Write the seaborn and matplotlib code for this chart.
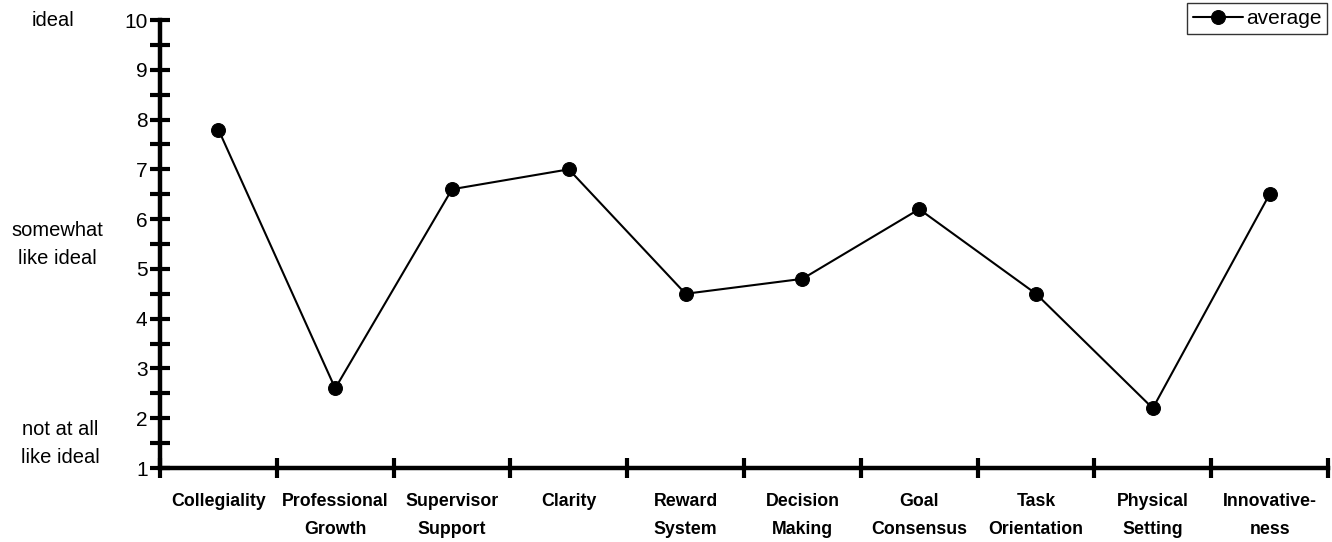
import matplotlib
matplotlib.use("Agg")
import matplotlib.pyplot as plt
from matplotlib import font_manager
import seaborn as sns
import pandas as pd
import numpy as np

categories = ["Collegiality", "Professional\nGrowth", "Supervisor\nSupport", "Clarity",
              "Reward\nSystem", "Decision\nMaking", "Goal\nConsensus", "Task\nOrientation",
              "Physical\nSetting", "Innovative-\nness"]
average = [7.8, 2.6, 6.6, 7.0, 4.5, 4.8, 6.2, 4.5, 2.2, 6.5]
y_ticks = [1, 2, 3, 4, 5, 6, 7, 8, 9, 10]
scale_labels = [("ideal", 10, 53), ("somewhat\nlike ideal", 5.5, 57), ("not at all\nlike ideal", 1.5, 60)]

sns.set_style("white")
plt.rcParams["font.family"] = ["Liberation Sans", "DejaVu Sans"]
plt.rcParams["text.color"] = "black"
plt.rcParams["xtick.color"] = "black"
plt.rcParams["ytick.color"] = "black"

# condensed bold face for the category names, when one is available
installed = {f.name for f in font_manager.fontManager.ttflist}
if "Liberation Sans Narrow" in installed:
    cat_family, cat_size = ["Liberation Sans Narrow", "Liberation Sans"], 15
else:
    cat_family, cat_size = ["Liberation Sans", "DejaVu Sans"], 12.8

df = pd.DataFrame({"pos": np.arange(len(categories)), "average": average})

fig = plt.figure(figsize=(13.32, 5.42), dpi=100)
ax = fig.add_axes([160 / 1332, 1 - 468 / 542, (1328 - 160) / 1332, (468 - 20) / 542])

sns.lineplot(data=df, x="pos", y="average", ax=ax, color="black", linewidth=1.5,
             marker="o", markersize=10, markeredgecolor="black", markerfacecolor="black",
             label="average", clip_on=False)

ax.set_xlim(-0.5, len(categories) - 0.5)
ax.set_ylim(1, 10)
ax.set_xlabel("")
ax.set_ylabel("")

for side in ["top", "right"]:
    ax.spines[side].set_visible(False)
for side in ["left", "bottom"]:
    ax.spines[side].set_linewidth(3.2)
    ax.spines[side].set_color("black")

# category boundaries as major x ticks, names centred on the minor ones
ax.set_xticks(np.arange(-0.5, len(categories), 1.0))
ax.set_xticklabels([])
ax.set_xticks(np.arange(len(categories)), minor=True)
ax.set_xticklabels(categories, minor=True, fontweight="bold", fontsize=cat_size,
                   family=cat_family, linespacing=1.85)
ax.tick_params(axis="x", which="major", bottom=True, direction="inout", length=14, width=3,
               color="black")
ax.tick_params(axis="x", which="minor", bottom=True, length=0, pad=18)

ax.set_yticks(y_ticks)
ax.set_yticklabels([str(v) for v in y_ticks], fontsize=15)
ax.set_yticks(np.arange(1.5, 10, 1.0), minor=True)
ax.tick_params(axis="y", which="major", left=True, direction="inout", length=14, width=3,
               color="black", pad=2)
ax.tick_params(axis="y", which="minor", left=True, direction="inout", length=14, width=3,
               color="black")

for text, yv, xpx in scale_labels:
    ydisp = ax.transData.transform((0, yv))[1]
    yfig = fig.transFigure.inverted().transform((0, ydisp))[1]
    fig.text(xpx / 1332, yfig, text, ha="center", va="center", fontsize=14.5, linespacing=1.6)

leg = ax.legend(loc="upper right", bbox_to_anchor=(1327 / 1332, 1 - 3 / 542),
                bbox_transform=fig.transFigure, frameon=True, fancybox=False,
                fontsize=15, handlelength=2.4, handletextpad=0.15, borderpad=0.28,
                borderaxespad=0)
leg.get_frame().set_edgecolor("black")
leg.get_frame().set_linewidth(1.0)

fig.savefig("out.png", dpi=100)
